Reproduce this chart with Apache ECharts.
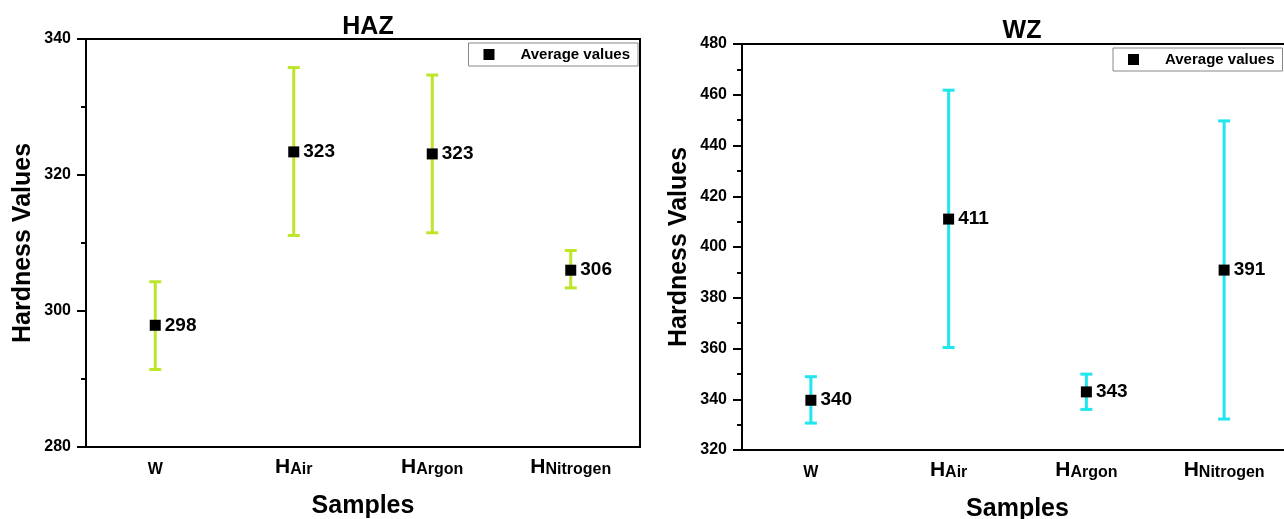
<!DOCTYPE html>
<html>
<head>
<meta charset="utf-8">
<script src="https://cdn.jsdelivr.net/npm/echarts@6/dist/echarts.min.js"></script>
<style>
  html, body { margin: 0; padding: 0; background: #fff; }
  #main { width: 1284px; height: 519px; }
</style>
</head>
<body>
<div id="main"></div>
<script>
// sample names (H + subscript)
const categories = ["W", "HAir", "HArgon", "HNitrogen"];

// HAZ hardness: mean and error bar ends
const hazMean = [297.9, 323.4, 323.1, 306.0];
const hazLow = [291.4, 311.1, 311.5, 303.4];
const hazHigh = [304.3, 335.8, 334.7, 308.9];

// WZ hardness
const wzMean = [339.6, 411.0, 342.9, 390.9];
const wzLow = [330.6, 360.4, 336.0, 332.2];
const wzHigh = [348.9, 461.8, 349.9, 449.7];

const hazTicks = { min: 280, max: 340, interval: 20 };
const wzTicks = { min: 320, max: 480, interval: 20 };

const FONT = "Liberation Sans, Arial, sans-serif";

function catLabel(val) {
  if (val.length > 1 && val[0] === "H") {
    return "{h|H}{s|" + val.slice(1) + "}";
  }
  return "{s|" + val + "}";
}

function errorBars(low, high) {
  return categories.map((c, i) => [i, low[i], high[i]]);
}

function renderBar(color) {
  return function (params, api) {
    const x = api.value(0);
    const lo = api.coord([x, api.value(1)]);
    const hi = api.coord([x, api.value(2)]);
    const hw = 6;
    const st = { stroke: color, lineWidth: 3 };
    return {
      type: "group",
      children: [
        { type: "line", shape: { x1: lo[0], y1: lo[1], x2: hi[0], y2: hi[1] }, style: st },
        { type: "line", shape: { x1: hi[0] - hw, y1: hi[1], x2: hi[0] + hw, y2: hi[1] }, style: st },
        { type: "line", shape: { x1: lo[0] - hw, y1: lo[1], x2: lo[0] + hw, y2: lo[1] }, style: st },
      ],
    };
  };
}

function xAxisCfg(idx) {
  return {
    type: "category",
    gridIndex: idx,
    data: categories,
    name: "Samples",
    nameLocation: "middle",
    nameGap: 47,
    nameTextStyle: { fontSize: 25, fontWeight: "bold", color: "#000", fontFamily: FONT },
    axisLine: { lineStyle: { color: "#000", width: 2 } },
    axisTick: { alignWithLabel: true, length: 7, lineStyle: { width: 2, color: "#000" } },
    axisLabel: {
      margin: 9,
      formatter: catLabel,
      rich: {
        h: { fontSize: 21, lineHeight: 22, fontWeight: "bold", color: "#000", fontFamily: FONT, verticalAlign: "bottom" },
        s: { fontSize: 16, lineHeight: 22, fontWeight: "bold", color: "#000", fontFamily: FONT, verticalAlign: "bottom" },
      },
    },
    splitLine: { show: false },
  };
}

function yAxisCfg(idx, t) {
  return {
    type: "value",
    gridIndex: idx,
    min: t.min,
    max: t.max,
    interval: t.interval,
    name: "Hardness Values",
    nameLocation: "middle",
    nameGap: 50,
    nameTextStyle: { fontSize: 25, fontWeight: "bold", color: "#000", fontFamily: FONT },
    axisLine: { show: true, lineStyle: { color: "#000", width: 2 } },
    axisTick: { show: true, length: 9, lineStyle: { width: 2, color: "#000" } },
    minorTick: { show: true, splitNumber: 2, length: 5, lineStyle: { width: 2, color: "#000" } },
    axisLabel: { margin: 15, fontSize: 16, fontWeight: "bold", color: "#000", fontFamily: FONT },
    splitLine: { show: false },
  };
}

function legendCfg(pos) {
  return Object.assign({
    data: ["Average values"],
    orient: "vertical",
    icon: "rect",
    itemWidth: 11,
    itemHeight: 11,
    backgroundColor: "#fff",
    borderColor: "#888",
    borderWidth: 1,
    borderRadius: 0,
    padding: [4, 8, 4, 15],
    formatter: "{a|{name}}",
    textStyle: {
      rich: { a: { fontSize: 15, fontWeight: "bold", color: "#000", fontFamily: FONT, padding: [0, 0, 0, 21] } },
    },
  }, pos);
}

function meanSeries(idx, data) {
  return {
    name: "Average values",
    type: "scatter",
    xAxisIndex: idx,
    yAxisIndex: idx,
    data: data,
    symbol: "rect",
    symbolSize: 11,
    z: 5,
    itemStyle: { color: "#000", opacity: 1 },
    label: {
      show: true,
      position: "right",
      distance: 4,
      formatter: (p) => Math.round(p.value),
      fontSize: 19,
      fontWeight: "bold",
      color: "#000",
      fontFamily: FONT,
    },
  };
}

const chart = echarts.init(document.getElementById("main"));
chart.setOption({
  animation: false,
  backgroundColor: "#fff",
  title: [
    { text: "HAZ", left: 363, top: 10, textAlign: "center",
      textStyle: { fontSize: 25, fontWeight: "bold", color: "#000", fontFamily: FONT } },
    { text: "WZ", left: 1017, top: 14, textAlign: "center",
      textStyle: { fontSize: 25, fontWeight: "bold", color: "#000", fontFamily: FONT } },
  ],
  legend: [
    legendCfg({ right: 646, top: 43 }),
    legendCfg({ left: 1113, top: 48 }),
  ],
  grid: [
    { left: 86, top: 39, width: 554, height: 408, show: true, borderColor: "#000", borderWidth: 2,
      backgroundColor: "transparent", outerBoundsMode: "none" },
    { left: 742, top: 44, width: 551, height: 406, show: true, borderColor: "#000", borderWidth: 2,
      backgroundColor: "transparent", outerBoundsMode: "none" },
  ],
  xAxis: [xAxisCfg(0), xAxisCfg(1)],
  yAxis: [yAxisCfg(0, hazTicks), yAxisCfg(1, wzTicks)],
  series: [
    {
      type: "custom",
      xAxisIndex: 0,
      yAxisIndex: 0,
      data: errorBars(hazLow, hazHigh),
      encode: { x: 0, y: [1, 2] },
      renderItem: renderBar("#bde52a"),
      z: 2,
    },
    {
      type: "custom",
      xAxisIndex: 1,
      yAxisIndex: 1,
      data: errorBars(wzLow, wzHigh),
      encode: { x: 0, y: [1, 2] },
      renderItem: renderBar("#20e6ee"),
      z: 2,
    },
    meanSeries(0, hazMean),
    meanSeries(1, wzMean),
  ],
});
</script>
</body>
</html>
